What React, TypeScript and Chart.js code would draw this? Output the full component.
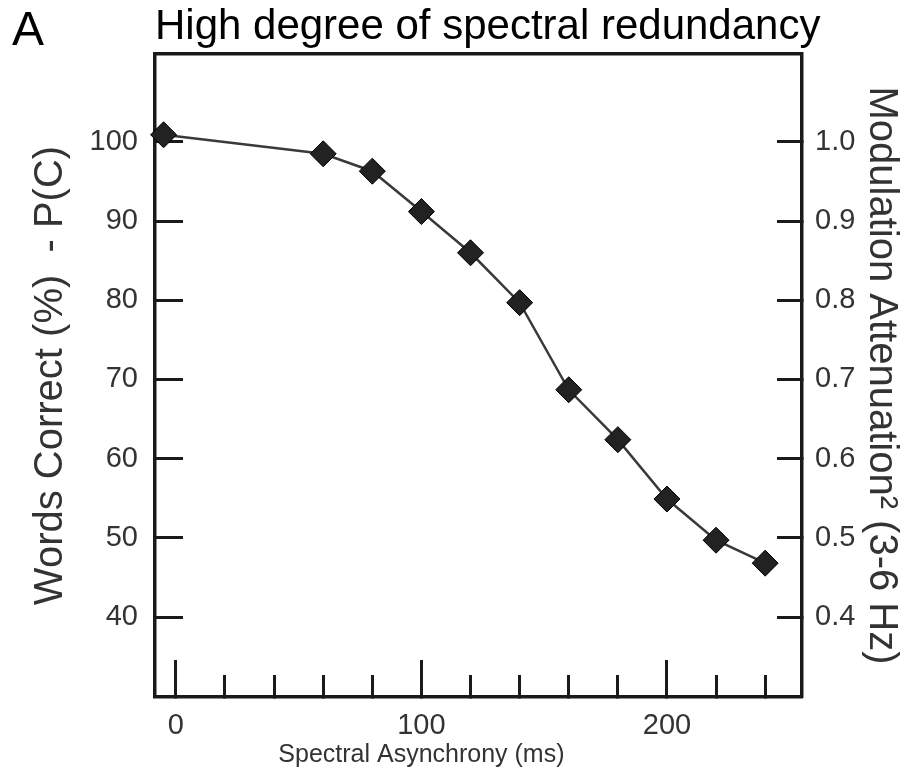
import React, { useEffect, useRef } from 'react';
import { Chart, registerables } from 'chart.js';

Chart.register(...registerables);

// ---- data ----
const asynchronyMs = [-5, 60, 80, 100, 120, 140, 160, 180, 200, 220, 240];
const wordsCorrectPct = [100.9, 98.5, 96.3, 91.2, 86.0, 79.7, 68.7, 62.4, 54.9, 49.7, 46.8];

const leftTickValues = [40, 50, 60, 70, 80, 90, 100];
const rightTickValues = [0.4, 0.5, 0.6, 0.7, 0.8, 0.9, 1.0];
const xMinorTickValues = [0, 20, 40, 60, 80, 100, 120, 140, 160, 180, 200, 220, 240];
const xMajorTickValues = [0, 100, 200];

const panelLetter = 'A';
const chartTitle = 'High degree of spectral redundancy';
const xAxisTitle = 'Spectral Asynchrony (ms)';
const xAxisTitleAnchor = 100;
const leftAxisTitle = 'Words Correct (%)  - P(C)';
const rightAxisTitle = 'Modulation Attenuation\u00B2 (3-6 Hz)';

const xRange = { min: -8.5, max: 255 };
const leftRange = { min: 29.9, max: 111.1 };
const rightRange = { min: 0.299, max: 1.111 };

// ---- styles ----
const NARROW = "'Liberation Sans Narrow', 'Arial Narrow', 'Liberation Sans', Arial, sans-serif";
const SANS = "'Liberation Sans', Arial, Helvetica, sans-serif";
const INK = '#1a1a1a';
const TEXT = '#333333';

const panelTextPlugin = {
  id: 'panelText',
  afterDraw(chart: any) {
    const ctx = chart.ctx;
    const xs = chart.scales.x;
    const area = chart.chartArea;
    ctx.save();
    ctx.fillStyle = '#000';
    ctx.textAlign = 'left';
    ctx.textBaseline = 'alphabetic';
    ctx.font = `48px ${SANS}`;
    ctx.fillText(panelLetter, 12, 45);
    ctx.font = `42px ${SANS}`;
    ctx.fillText(chartTitle, area.left, 39);
    ctx.fillStyle = TEXT;
    ctx.font = `25px ${NARROW}`;
    ctx.textAlign = 'center';
    ctx.fillText(xAxisTitle, xs.getPixelForValue(xAxisTitleAnchor), 762);
    ctx.restore();
  },
};

const noPad = (s: any) => {
  s.paddingTop = 0;
  s.paddingBottom = 0;
  s.paddingLeft = 0;
  s.paddingRight = 0;
};

export default function App() {
  const canvasRef = useRef<HTMLCanvasElement | null>(null);

  useEffect(() => {
    if (!canvasRef.current) return;
    const points = asynchronyMs.map((x, i) => ({ x, y: wordsCorrectPct[i] }));

    const chart = new Chart(canvasRef.current, {
      type: 'line',
      data: {
        datasets: [
          {
            data: points,
            borderColor: '#3a3a3a',
            borderWidth: 2.5,
            tension: 0,
            pointStyle: 'rectRot',
            pointRadius: 13,
            pointBackgroundColor: '#222222',
            pointBorderColor: '#000000',
            pointBorderWidth: 1,
            clip: false,
          } as any,
        ],
      },
      options: {
        responsive: false,
        animation: false,
        devicePixelRatio: 1,
        layout: { padding: { top: 54, left: 0, right: 0, bottom: 0 } },
        plugins: {
          legend: { display: false },
          tooltip: { enabled: false },
          title: { display: false },
        },
        scales: {
          x: {
            type: 'linear',
            axis: 'x',
            position: 'bottom',
            min: xRange.min,
            max: xRange.max,
            afterBuildTicks: (s: any) => {
              s.ticks = xMinorTickValues.map((v) => ({ value: v }));
            },
            afterFit: (s: any) => {
              s.height = 79;
              noPad(s);
            },
            ticks: {
              display: true,
              padding: 34,
              color: TEXT,
              maxRotation: 0,
              minRotation: 0,
              autoSkip: false,
              font: { family: NARROW, size: 29 },
              callback: (v: any) => (xMajorTickValues.includes(Number(v)) ? String(v) : ''),
            },
            grid: { drawOnChartArea: false, drawTicks: true, tickLength: -22, tickWidth: 3, tickColor: INK },
            border: { display: true, color: INK, width: 3.5 },
          },
          x2: {
            type: 'linear',
            axis: 'x',
            position: 'bottom',
            weight: -1,
            min: xRange.min,
            max: xRange.max,
            afterBuildTicks: (s: any) => {
              s.ticks = xMajorTickValues.map((v) => ({ value: v }));
            },
            afterFit: (s: any) => {
              s.height = 0;
              noPad(s);
            },
            ticks: { display: false },
            grid: { drawOnChartArea: false, drawTicks: true, tickLength: -37, tickWidth: 3, tickColor: INK },
            border: { display: false },
          },
          xTop: {
            type: 'linear',
            axis: 'x',
            position: 'top',
            min: xRange.min,
            max: xRange.max,
            afterFit: (s: any) => {
              s.height = 0;
              noPad(s);
            },
            ticks: { display: false },
            grid: { drawOnChartArea: false, drawTicks: false },
            border: { display: true, color: INK, width: 3.5 },
          },
          y: {
            type: 'linear',
            axis: 'y',
            position: 'left',
            min: leftRange.min,
            max: leftRange.max,
            afterBuildTicks: (s: any) => {
              s.ticks = leftTickValues.map((v) => ({ value: v }));
            },
            afterFit: (s: any) => {
              s.width = 155;
              noPad(s);
            },
            ticks: {
              padding: 45,
              color: TEXT,
              font: { family: NARROW, size: 29 },
              callback: (v: any) => String(v),
            },
            grid: { drawOnChartArea: false, drawTicks: true, tickLength: -28, tickWidth: 3, tickColor: INK },
            border: { display: true, color: INK, width: 3.5 },
            title: {
              display: true,
              text: leftAxisTitle,
              color: TEXT,
              font: { family: SANS, size: 40, lineHeight: 1.2 },
              padding: { top: 27, bottom: 0 },
            },
          },
          y2: {
            type: 'linear',
            axis: 'y',
            position: 'right',
            min: rightRange.min,
            max: rightRange.max,
            afterBuildTicks: (s: any) => {
              s.ticks = rightTickValues.map((v) => ({ value: v }));
            },
            afterFit: (s: any) => {
              s.width = 110;
              noPad(s);
            },
            ticks: {
              padding: 38,
              color: TEXT,
              font: { family: NARROW, size: 29 },
              callback: (v: any) => Number(v).toFixed(1),
            },
            grid: { drawOnChartArea: false, drawTicks: true, tickLength: -25, tickWidth: 3, tickColor: INK },
            border: { display: true, color: INK, width: 3.5 },
            title: {
              display: true,
              text: rightAxisTitle,
              color: TEXT,
              font: { family: SANS, size: 40, lineHeight: 1.2 },
              padding: { top: 7, bottom: 0 },
            },
          },
        },
      } as any,
      plugins: [panelTextPlugin],
    });

    return () => chart.destroy();
  }, []);

  return (
    <div style={{ position: 'fixed', left: 0, top: 0, width: 912, height: 776, background: '#fff' }}>
      <canvas ref={canvasRef} width={912} height={776} style={{ display: 'block', width: 912, height: 776 }} />
    </div>
  );
}
